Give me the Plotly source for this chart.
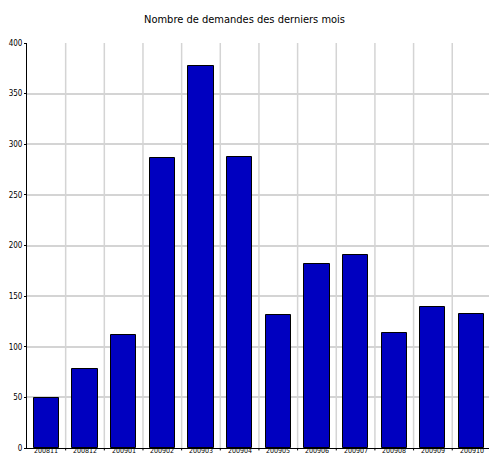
import plotly.graph_objects as go

months = ["200811", "200812", "200901", "200902", "200903", "200904",
          "200905", "200906", "200907", "200908", "200909", "200910"]
demandes = [49, 78, 112, 286, 377, 287, 131, 182, 191, 114, 139, 132]
y_ticks = [0, 50, 100, 150, 200, 250, 300, 350, 400]

FONT = "Liberation Sans Narrow, DejaVu Sans Condensed, Arial Narrow, sans-serif"

fig = go.Figure(go.Bar(
    x=list(range(len(months))),
    y=demandes,
    width=0.65,
    marker=dict(color="#0000c0", line=dict(color="#000000", width=1)),
))

W, H = 489, 456
left, top, bottom_px = 26.5, 43.3, 447.7
cat_w = 38.7
x_max = -0.5 + (W - left) / cat_w
plot_h = bottom_px - top

fig.update_layout(
    width=W, height=H,
    margin=dict(l=left, r=0, t=top, b=H - bottom_px, pad=0),
    paper_bgcolor="white", plot_bgcolor="white",
    showlegend=False,
    bargap=0,
    title=dict(text="Nombre de demandes des derniers mois",
               x=0.5, xanchor="center", y=1 - 19 / H, yanchor="middle",
               font=dict(family=FONT, size=11, color="#000000")),
    font=dict(family=FONT, size=9, color="#000000"),
)

fig.update_xaxes(
    range=[-0.5, x_max],
    tickmode="array",
    tickvals=list(range(len(months))),
    ticktext=[""] * len(months),
    showgrid=False,
    showline=True, linecolor="#000000", linewidth=1,
    ticks="",
    automargin=False,
    zeroline=False,
)
# month labels placed under each category, kept inside the picture
for i, m in enumerate(months):
    fig.add_annotation(x=i, xref="x", y=-(H - bottom_px) / plot_h, yref="paper",
                       text=m, showarrow=False, xanchor="center", yanchor="bottom",
                       borderpad=0, font=dict(family=FONT, size=7, color="#000000"))
# boundary gridlines and ticks tied to axis coordinates
for i in range(len(months)):
    xb = i + 0.5
    fig.add_shape(type="line", xref="x", yref="paper", x0=xb, x1=xb, y0=0, y1=1,
                  line=dict(color="#d4d4d4", width=1.5), layer="below")
    fig.add_shape(type="line", xref="x", yref="paper", x0=xb, x1=xb, y0=0, y1=-0.006,
                  line=dict(color="#000000", width=1))

fig.update_yaxes(
    range=[0, 400],
    tickmode="array", tickvals=y_ticks,
    showgrid=True, gridcolor="#d4d4d4", gridwidth=1.5,
    showline=True, linecolor="#000000", linewidth=1,
    ticks="outside", ticklen=2, tickcolor="#000000",
    tickfont=dict(size=8),
    zeroline=False,
    automargin=False,
)

fig.write_html("out.html",
               config={"displayModeBar": False},
               post_script="document.body.style.margin='0';document.body.style.overflow='hidden';")
